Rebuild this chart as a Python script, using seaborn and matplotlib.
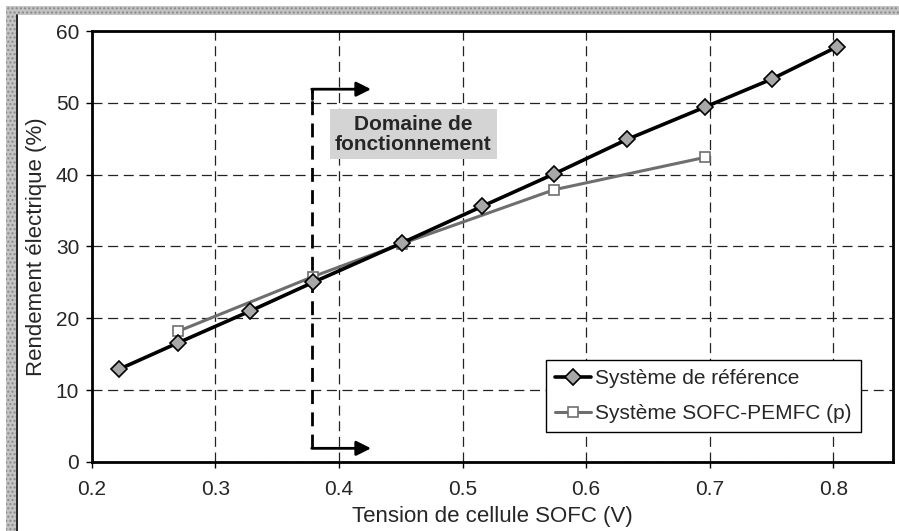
import matplotlib
matplotlib.use("Agg")
import matplotlib.pyplot as plt
from matplotlib.patches import Rectangle
import seaborn as sns
import pandas as pd

# Reference system: cell voltage (V) vs. electrical efficiency (%)
ref_voltage = [0.222, 0.270, 0.328, 0.379, 0.451, 0.516, 0.574, 0.633, 0.696, 0.750, 0.803]
ref_efficiency = [12.9, 16.6, 21.0, 25.0, 30.5, 35.6, 40.1, 44.9, 49.4, 53.3, 57.8]

# SOFC-PEMFC (p) system
hyb_voltage = [0.270, 0.379, 0.451, 0.574, 0.696]
hyb_efficiency = [18.2, 25.8, 30.4, 37.9, 42.4]

ref_label = "Système de référence"
hyb_label = "Système SOFC-PEMFC (p)"
x_label = "Tension de cellule SOFC (V)"
y_label = "Rendement électrique (%)"
box_text = "Domaine de\nfonctionnement"
x_ticks = [0.2, 0.3, 0.4, 0.5, 0.6, 0.7, 0.8]
y_ticks = [0, 10, 20, 30, 40, 50, 60]

ref_df = pd.DataFrame({"V": ref_voltage, "eta": ref_efficiency})
hyb_df = pd.DataFrame({"V": hyb_voltage, "eta": hyb_efficiency})

sns.set_theme(style="white")
plt.rcParams["font.family"] = ["Liberation Sans", "DejaVu Sans"]

fig = plt.figure(figsize=(8.99, 5.31), dpi=100)
ax = fig.add_axes([0.102, 0.130, 0.891, 0.8116])

sns.lineplot(data=ref_df, x="V", y="eta", ax=ax, color="black", linewidth=2.6,
             marker="D", markersize=8, markerfacecolor="#a8a8a8",
             markeredgecolor="black", markeredgewidth=1.2, label=ref_label, zorder=4)
sns.lineplot(data=hyb_df, x="V", y="eta", ax=ax, color="#6e6e6e", linewidth=2.2,
             marker="s", markersize=7.5, markerfacecolor="white",
             markeredgecolor="#6e6e6e", markeredgewidth=1.2, label=hyb_label, zorder=3)

ax.set_xlim(0.2, 0.848)
ax.set_ylim(0, 60)
ax.set_xticks(x_ticks)
ax.set_yticks(y_ticks)
ax.set_xticklabels([f"{t:.1f}" for t in x_ticks])
ax.tick_params(axis="both", labelsize=15, direction="out", length=4, width=1,
               color="black", bottom=True, left=True, pad=5)
ax.tick_params(axis="x", pad=9)
ax.set_xlabel(x_label, fontsize=16, labelpad=5)
ax.set_ylabel(y_label, fontsize=16, labelpad=6)

ax.set_axisbelow(True)
ax.grid(True, color="#222222", linestyle=(0, (8, 4.5)), linewidth=0.9)
for s in ax.spines.values():
    s.set_color("black")
    s.set_linewidth(2)

# Operating range marker
x_dom = 0.378
ax.plot([x_dom, x_dom], [1.9, 51.9], color="black", linewidth=2,
        linestyle=(0, (5, 3)), zorder=2)
ax.plot([x_dom, x_dom], [50.5, 51.9], color="black", linewidth=2, zorder=2)
for yy in (51.9, 1.9):
    ax.annotate("", xy=(0.426, yy), xytext=(x_dom, yy),
                arrowprops=dict(arrowstyle="-|>", color="black", lw=2,
                                mutation_scale=22, shrinkA=0, shrinkB=0))

ax.text(0.460, 45.6, box_text, ha="center", va="center", fontsize=15,
        fontweight="bold", linespacing=1.1, zorder=5,
        bbox=dict(boxstyle="square,pad=0.25", facecolor="#d4d4d4",
                  edgecolor="none"))

leg = ax.legend(loc="upper left", bbox_to_anchor=(0.567, 0.237), fontsize=15,
                frameon=True, fancybox=False, framealpha=1, edgecolor="black",
                handlelength=1.7, handletextpad=0.2, labelspacing=0.75,
                borderpad=0.45, borderaxespad=0)
leg.get_frame().set_linewidth(1.0)

# Scanned-page frame around the chart
fig.patches.append(Rectangle((6 / 899, 0), 10 / 899, 525 / 531, transform=fig.transFigure,
                             facecolor="#c4c4c4", edgecolor="#8a8a8a", hatch="....",
                             linewidth=0, zorder=-1))
fig.patches.append(Rectangle((6 / 899, 516 / 531), 893 / 899, 9 / 531, transform=fig.transFigure,
                             facecolor="#c4c4c4", edgecolor="#8a8a8a", hatch="....",
                             linewidth=0, zorder=-1))
fig.lines.append(plt.Line2D([16.5 / 899, 16.5 / 899], [0, 516 / 531], transform=fig.transFigure,
                            color="black", linewidth=1.2))

fig.savefig("out.png", dpi=100)
